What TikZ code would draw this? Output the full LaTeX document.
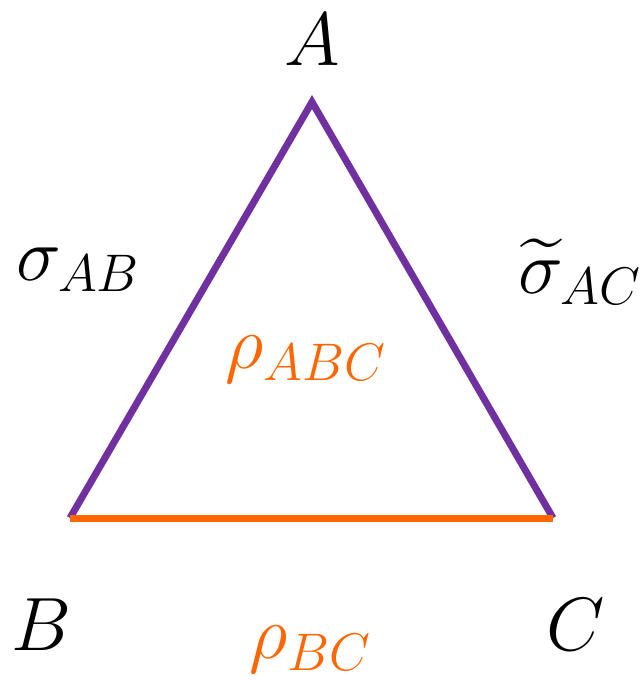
\RequirePackage{fix-cm}
\documentclass[tikz,border=0pt]{standalone}
\usepackage{amsmath,amssymb}
\usepackage{tikz}
\usetikzlibrary{positioning,calc}
\definecolor{edgepurple}{HTML}{7030A0}
\definecolor{edgeorange}{HTML}{FF6600}
\tikzset{
  edge/.style={line width=7*0.02cm},
  lbl/.style={inner sep=0pt,font=\fontsize{43}{50}\selectfont}
}
\begin{document}
\begin{tikzpicture}[x=0.02cm,y=-0.02cm]
\useasboundingbox (0,0) rectangle (642,680);
\coordinate (a) at (312,102);
\coordinate (b) at (70,518);
\coordinate (c) at (553,518);
\draw[edge,edgepurple,line join=miter] (b) -- (a) -- (c);
\draw[edge,edgeorange] (b) -- (c);
\node[lbl] (la) at (312,40) {$A$};
\node[lbl] (lb) at (42,625) {$B$};
\node[lbl] (lc) at (576,625) {$C$};
\node[lbl] (sab) at (78,270) {$\sigma_{AB}$};
\node[lbl] (sac) at (580,272) {$\widetilde{\sigma}_{AC}$};
\node[lbl,text=edgeorange] (rabc) at (306,360) {$\rho_{ABC}$};
\node[lbl,text=edgeorange] (rbc) at (310,650) {$\rho_{BC}$};
\end{tikzpicture}
\end{document}
